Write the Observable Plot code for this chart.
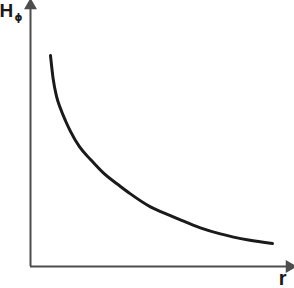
<!DOCTYPE html>
<html>
<head>
<meta charset="utf-8">
<script src="https://cdn.jsdelivr.net/npm/d3@7"></script>
<script src="https://cdn.jsdelivr.net/npm/@observablehq/plot@0.6"></script>
<style>
  html, body { margin: 0; padding: 0; background: #fff; }
  svg { display: block; overflow: visible; }
</style>
</head>
<body>
<div id="chart"></div>
<script>
// Curve H_phi(r) (arbitrary units)
const rValues = [0.76, 0.86, 0.99, 1.14, 1.33, 1.52, 1.86, 2.28, 2.78, 3.42, 3.80, 4.56, 5.32, 5.70, 6.46, 7.22, 8.29, 9.20];
const hValues = [7.96, 7.09, 6.42, 5.96, 5.50, 5.10, 4.52, 4.04, 3.52, 3.02, 2.74, 2.25, 1.92, 1.76, 1.46, 1.23, 1.00, 0.87];
const yLabel = "H";
const yLabelSub = "\u03d5";
const xLabel = "r";

const curve = rValues.map((r, i) => ({r, h: hValues[i]}));
const axisColor = "#4d4d4d";

const chart = Plot.plot({
  width: 294,
  height: 288,
  marginLeft: 30,
  marginRight: 1,
  marginTop: 1,
  marginBottom: 22,
  x: {domain: [0, 10], axis: null},
  y: {domain: [0, 10], axis: null},
  marks: [
    Plot.ruleX([0], {stroke: axisColor, strokeWidth: 2}),
    Plot.ruleY([0], {stroke: axisColor, strokeWidth: 2}),
    Plot.dot([{x: 0, y: 10}], {x: "x", y: "y", symbol: "triangle", r: 4.8, fill: axisColor, stroke: "none", dy: 4}),
    Plot.dot([{x: 10, y: 0}], {x: "x", y: "y", symbol: "triangle", r: 4.8, fill: axisColor, stroke: "none", rotate: 90, dx: -4}),
    Plot.line(curve, {x: "r", y: "h", curve: "monotone-x", stroke: "#1a1a1a", strokeWidth: 3}),
    Plot.text([yLabel], {frameAnchor: "top-left", dx: -31, dy: 2, text: d => d, fontSize: 19, fontWeight: "bold", fill: "#1a1a1a", textAnchor: "start", lineAnchor: "top", fontFamily: "Liberation Sans, Arial, sans-serif"}),
    Plot.text([yLabelSub], {frameAnchor: "top-left", dx: -16, dy: 12, text: d => d, fontSize: 10, fontWeight: "bold", fill: "#1a1a1a", textAnchor: "start", lineAnchor: "top", fontFamily: "DejaVu Sans, sans-serif"}),
    Plot.text([xLabel], {frameAnchor: "bottom-right", dx: -7, dy: 18, text: d => d, fontSize: 20, fontWeight: "bold", fill: "#1a1a1a", textAnchor: "end", lineAnchor: "bottom", fontFamily: "Liberation Sans, Arial, sans-serif"})
  ]
});
document.getElementById("chart").appendChild(chart);
</script>
</body>
</html>
